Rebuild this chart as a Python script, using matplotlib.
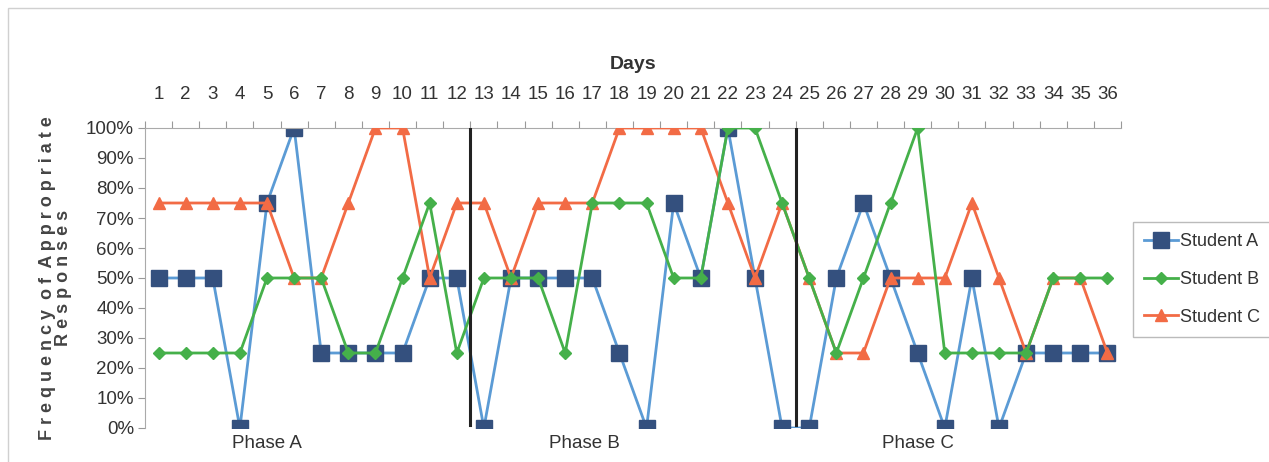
import matplotlib.pyplot as plt
import matplotlib.patches as mpatches

plt.rcParams['font.family'] = ['Liberation Sans', 'DejaVu Sans']

days = list(range(1, 37))
student_a = [50, 50, 50, 0, 75, 100, 25, 25, 25, 25, 50, 50,
             0, 50, 50, 50, 50, 25, 0, 75, 50, 100, 50, 0,
             0, 50, 75, 50, 25, 0, 50, 0, 25, 25, 25, 25]
student_b = [25, 25, 25, 25, 50, 50, 50, 25, 25, 50, 75, 25,
             50, 50, 50, 25, 75, 75, 75, 50, 50, 100, 100, 75,
             50, 25, 50, 75, 100, 25, 25, 25, 25, 50, 50, 50]
student_c = [75, 75, 75, 75, 75, 50, 50, 75, 100, 100, 50, 75,
             75, 50, 75, 75, 75, 100, 100, 100, 100, 75, 50, 75,
             50, 25, 25, 50, 50, 50, 75, 50, 25, 50, 50, 25]
phase_breaks = [12.5, 24.5]
phase_labels = ["Phase A", "Phase B", "Phase C"]
phase_pos = [5.0, 16.7, 29.0]

fig = plt.figure(figsize=(12.69, 4.62), dpi=100)
ax = fig.add_axes([145/1269, 1-428/462, (1121-145)/1269, (428-128)/462])

# cadre gris autour du graphique
fig.patches.append(mpatches.Rectangle((8/1269, -0.1), 1.2, 1-8/462+0.1, transform=fig.transFigure,
                                      fill=False, edgecolor='#d0d0d0', linewidth=1))

ax.plot(days, student_c, color='#f26b45', linewidth=2, marker='^', markersize=9,
        markerfacecolor='#f26b45', markeredgecolor='#f26b45', label='Student C', zorder=3)
ax.plot(days, student_b, color='#45b04a', linewidth=2, marker='D', markersize=6,
        markerfacecolor='#45b04a', markeredgecolor='#45b04a', label='Student B', zorder=4)
ax.plot(days, student_a, color='#5b9bd5', linewidth=2, marker='s', markersize=11,
        markerfacecolor='#34507e', markeredgecolor='#34507e', label='Student A', zorder=2)

for b in phase_breaks:
    ax.plot([b, b], [1, 100], color='#222222', linewidth=2.2, zorder=5)

ax.set_xlim(0.5, 36.5)
ax.set_ylim(0, 100)
ax.set_yticks(range(0, 101, 10))
ax.set_yticklabels([f"{v}%" for v in range(0, 101, 10)], fontsize=13.5, color='#333333')

ax.xaxis.tick_top()
ax.set_xticks([d - 0.5 for d in days] + [36.5])
ax.set_xticklabels([])
ax.set_xticks(days, minor=True)
ax.set_xticklabels([str(d) for d in days], minor=True, fontsize=13.5, color='#333333')
ax.tick_params(axis='x', which='minor', length=0, pad=18)
ax.tick_params(axis='x', which='major', length=5, color='#999999', direction='out')
ax.tick_params(axis='y', length=5, color='#999999', direction='out', pad=3)
ax.xaxis.set_label_position('top')
ax.set_xlabel('Days', fontsize=14, fontweight='bold', color='#333333', labelpad=12)
ax.set_ylabel('F r e q u e n c y  o f  A p p r o p r i a t e\nR e s p o n s e s', fontsize=13,
              fontweight='bold', color='#444444', labelpad=10, linespacing=0.95)

for s in ['right', 'bottom']:
    ax.spines[s].set_visible(False)
for s in ['top', 'left']:
    ax.spines[s].set_color('#aaaaaa')

for lab, p in zip(phase_labels, phase_pos):
    ax.text(p, -2.5, lab, ha='center', va='top', fontsize=13.5, color='#333333')

h, l = ax.get_legend_handles_labels()
leg = fig.legend(h[::-1], l[::-1], loc='center left', bbox_to_anchor=(1133/1269, 0.395),
                 fontsize=13, frameon=True, fancybox=False, edgecolor='#aaaaaa',
                 handlelength=1.9, labelspacing=1.15, borderpad=0.6, handletextpad=0.1,
                 borderaxespad=0)
for t in leg.get_texts():
    t.set_color('#333333')

fig.savefig('out.png', dpi=100)
